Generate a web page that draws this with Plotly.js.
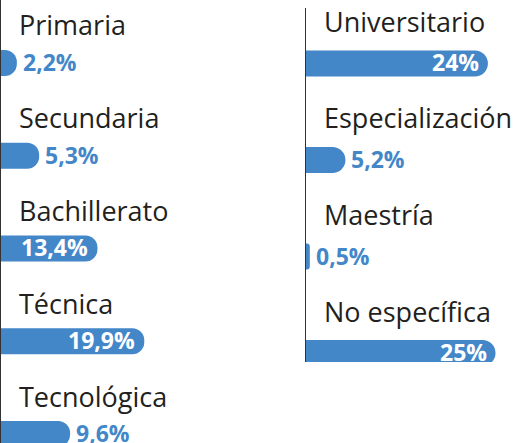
<!DOCTYPE html>
<html>
<head>
<meta charset="utf-8">
<script src="https://cdn.plot.ly/plotly-3.0.1.min.js"></script>
<style>html,body{margin:0;padding:0;background:#fff;}#chart{width:524px;height:443px;}</style>
</head>
<body>
<div id="chart"></div>
<script>
const leftCategories = ['Primaria', 'Secundaria', 'Bachillerato', 'Técnica', 'Tecnológica'];
const leftValues = [2.2, 5.3, 13.4, 19.9, 9.6];
const rightCategories = ['Universitario', 'Especialización', 'Maestría', 'No específica'];
const rightValues = [24, 5.2, 0.5, 25];

const BLUE = '#4387c9';
const LABEL_FONT = 'Open Sans';
const fmt = v => (Number.isInteger(v) ? String(v) : v.toFixed(1).replace('.', ',')) + '%';
const isInside = v => v >= 12;

function barTrace(cats, vals, xa, ya, w) {
  return {
    type: 'bar', orientation: 'h',
    y: cats, x: vals, xaxis: xa, yaxis: ya,
    width: w,
    marker: {color: BLUE, cornerradius: 13},
    textposition: 'none',
    cliponaxis: false,
    hoverinfo: 'none'
  };
}

const data = [
  barTrace(leftCategories, leftValues, 'x', 'y', 0.28),
  barTrace(rightCategories, rightValues, 'x2', 'y2', 0.27)
];

function catLabels(cats, xref, yref, yshift) {
  return cats.map(c => ({
    xref: xref, yref: yref, x: 0, y: c, text: c,
    showarrow: false, xanchor: 'left', yanchor: 'middle',
    xshift: 16, yshift: yshift,
    font: {family: LABEL_FONT, size: 27, color: '#231f20'}
  }));
}

function valueLabels(cats, vals, xref, yref) {
  return vals.map((v, i) => {
    const inside = isInside(v);
    return {
      xref: xref, yref: yref, x: v, y: cats[i], text: fmt(v),
      showarrow: false, xanchor: inside ? 'right' : 'left', yanchor: 'middle',
      xshift: inside ? -7 : 4, yshift: 1,
      font: {family: LABEL_FONT, size: 23, weight: 700, color: inside ? '#ffffff' : BLUE}
    };
  });
}

const hiddenX = {showgrid: false, zeroline: false, showline: false, showticklabels: false, ticks: ''};
const yBase = {type: 'category', showgrid: false, zeroline: false, showline: true,
  linecolor: '#333333', linewidth: 1.5, showticklabels: false, ticks: ''};

const layout = {
  width: 524, height: 443,
  margin: {l: 0, r: 0, t: 0, b: 0},
  paper_bgcolor: '#ffffff', plot_bgcolor: 'rgba(0,0,0,0)',
  showlegend: false,
  xaxis: Object.assign({}, hiddenX, {domain: [1 / 524, 290 / 524], range: [0, 289 / 7.2], anchor: 'y'}),
  yaxis: Object.assign({}, yBase, {domain: [0, 1], range: [4.097, -0.679], anchor: 'x'}),
  xaxis2: Object.assign({}, hiddenX, {domain: [306 / 524, 1], range: [0, 218 / 7.58], anchor: 'y2'}),
  yaxis2: Object.assign({}, yBase, {domain: [1 - 362 / 443, 1 - 8 / 443], range: [3.093, -0.575], anchor: 'x2'}),
  annotations: catLabels(leftCategories, 'x', 'y', 38)
    .concat(catLabels(rightCategories, 'x2', 'y2', 42))
    .concat(valueLabels(leftCategories, leftValues, 'x', 'y'))
    .concat(valueLabels(rightCategories, rightValues, 'x2', 'y2'))
};

Plotly.newPlot('chart', data, layout, {displayModeBar: false, staticPlot: true});
</script>
</body>
</html>
